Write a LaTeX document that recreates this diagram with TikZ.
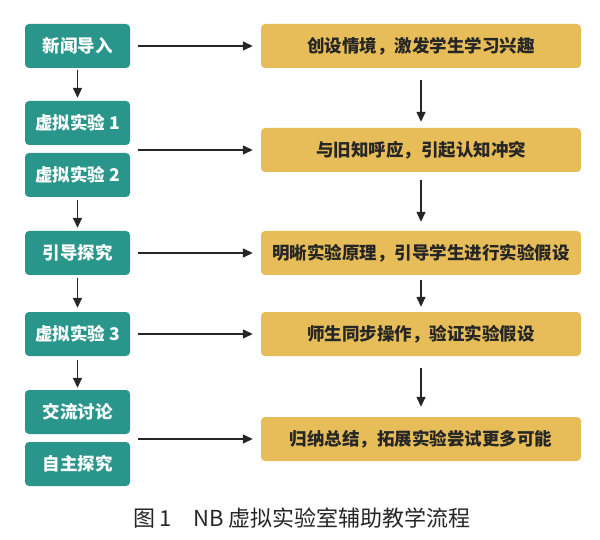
\documentclass[tikz,border=0pt]{standalone}
\usepackage{fontspec}
\setmainfont{Noto Sans CJK SC}
\usetikzlibrary{arrows.meta}
\colorlet{step edge}{black!85}
\definecolor{teal box}{HTML}{2A968B}
\definecolor{gold box}{HTML}{E6BD58}
\def\boxfont{\fontsize{17.5}{20}\selectfont\bfseries}
\tikzset{
  action/.style={fill=teal box, text=white, rounded corners=4pt,
    minimum width=105pt, minimum height=44pt, inner sep=0pt, font=\boxfont},
  aim/.style={fill=gold box, text=black!85, rounded corners=4pt,
    minimum width=320pt, minimum height=44pt, inner sep=0pt, font=\boxfont},
  flow/.style={draw=step edge, line width=1.4pt, -{Triangle[length=10pt,width=9pt]}}
}

\begin{document}
\begin{tikzpicture}[x=1pt, y=-1pt]
    \useasboundingbox[fill=white] (0,0) rectangle (600,540);
    \node[action] (news) at (77.5,46) {新闻导入};
    \node[action] (vir1) at (77.5,123) {虚拟实验 1};
    \node[action] (vir2) at (77.5,175) {虚拟实验 2};
    \node[action] (guide) at (77.5,253) {引导探究};
    \node[action] (vir3) at (77.5,334) {虚拟实验 3};
    \node[action] (talk) at (77.5,412) {交流讨论};
    \node[action] (self) at (77.5,464) {自主探究};
    \node[aim] (scene) at (421,46) {创设情境，激发学生学习兴趣};
    \node[aim] (clash) at (421,150) {与旧知呼应，引起认知冲突};
    \node[aim] (rule) at (421,253) {明晰实验原理，引导学生进行实验假设};
    \node[aim] (check) at (421,334) {师生同步操作，验证实验假设};
    \node[aim] (sum) at (421,439) {归纳总结，拓展实验尝试更多可能};
    \draw[flow, shorten <=2pt, shorten >=3pt] (news) -- (vir1);
    \draw[flow, shorten <=3pt, shorten >=3pt] (vir2) -- (guide);
    \draw[flow, shorten <=3pt, shorten >=4pt] (guide) -- (vir3);
    \draw[flow, shorten <=4pt, shorten >=2pt] (vir3) -- (talk);
    \draw[flow, shorten <=8pt, shorten >=8pt] (news) -- (scene);
    \draw[flow, shorten <=8pt, shorten >=8pt] (clash.west -| vir1.east) -- (clash);
    \draw[flow, shorten <=8pt, shorten >=8pt] (guide) -- (rule);
    \draw[flow, shorten <=8pt, shorten >=8pt] (vir3) -- (check);
    \draw[flow, shorten <=8pt, shorten >=8pt] (sum.west -| talk.east) -- (sum);
    \draw[flow, shorten <=12pt, shorten >=6pt] (scene) -- (clash);
    \draw[flow, shorten <=8pt, shorten >=9pt] (clash) -- (rule);
    \draw[flow, shorten <=5pt, shorten >=5pt] (rule) -- (check);
    \draw[flow, shorten <=12pt, shorten >=10pt] (check) -- (sum);
    \node[font=\fontsize{22}{26}\selectfont, text=black!85] (title) at (302,518)
      {图\,1\hspace{1em}NB 虚拟实验室辅助教学流程};
\end{tikzpicture}
\end{document}
